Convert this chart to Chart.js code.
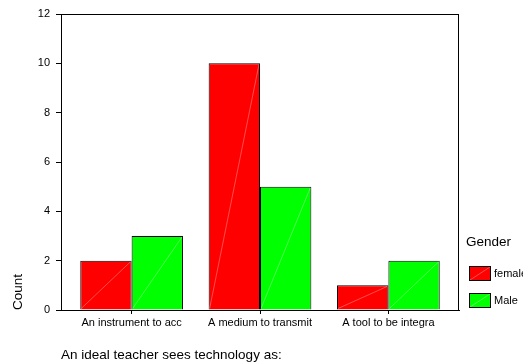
<!DOCTYPE html>
<html>
<head>
<meta charset="utf-8">
<script src="https://cdn.jsdelivr.net/npm/chart.js@4.4.1/dist/chart.umd.min.js"></script>
<style>
  html, body { margin: 0; padding: 0; background: #fff; overflow: hidden; }
  #wrap { width: 523px; height: 362px; }
</style>
</head>
<body>
<div id="wrap"><canvas id="chartGender"></canvas></div>
<script>
// counts per answer, split by gender
const categories = ['An instrument to acc', 'A medium to transmit', 'A tool to be integra']
const female = [2, 10, 1]
const male = [3, 5, 2]
const yTicks = [0, 2, 4, 6, 8, 10, 12]
const genders = ['female', 'Male']
const colors = ['#ff0000', '#00ff00']

const FONT = 'Arial, "Liberation Sans", sans-serif'

// box around the plot area
const framePlugin = {
  id: 'frame',
  afterDraw(chart) {
    const a = chart.chartArea, ctx = chart.ctx
    ctx.save()
    ctx.strokeStyle = '#000'
    ctx.lineWidth = 1
    ctx.strokeRect(Math.round(a.left) + 0.5, Math.round(a.top) + 0.5,
      Math.round(a.right - a.left) - 1, Math.round(a.bottom - a.top))
    ctx.restore()
  }
}

// the faint diagonal spss puts across every filled bar
const diagonalPlugin = {
  id: 'diagonal',
  afterDatasetsDraw(chart) {
    const ctx = chart.ctx
    ctx.save()
    ctx.strokeStyle = 'rgba(255,255,255,0.3)'
    ctx.lineWidth = 1
    chart.data.datasets.forEach((ds, i) => {
      chart.getDatasetMeta(i).data.forEach(bar => {
        const p = bar.getProps(['x', 'y', 'base', 'width'], true)
        ctx.beginPath()
        ctx.moveTo(p.x - p.width / 2 + 1, p.base - 1)
        ctx.lineTo(p.x + p.width / 2 - 1, p.y + 1)
        ctx.stroke()
      })
    })
    ctx.restore()
  }
}

// legend block at the lower right, title "Gender"
const legendPlugin = {
  id: 'genderLegend',
  afterDraw(chart) {
    const a = chart.chartArea, ctx = chart.ctx
    const x = a.right + 10
    ctx.save()
    ctx.fillStyle = '#000'
    ctx.textBaseline = 'middle'
    ctx.font = '13.5px ' + FONT
    ctx.fillText('Gender', a.right + 7, a.bottom - 68)
    ctx.font = '11px ' + FONT
    chart.data.datasets.forEach((ds, i) => {
      const top = a.bottom - 44 + i * 27
      ctx.fillStyle = ds.backgroundColor
      ctx.fillRect(x, top, 22, 15)
      ctx.strokeStyle = 'rgba(255,255,255,0.3)'
      ctx.beginPath()
      ctx.moveTo(x + 1, top + 14)
      ctx.lineTo(x + 21, top + 1)
      ctx.stroke()
      ctx.strokeStyle = '#000'
      ctx.strokeRect(x + 0.5, top + 0.5, 21, 14)
      ctx.fillStyle = '#000'
      ctx.fillText(ds.label, x + 25, top + 8)
    })
    ctx.restore()
  }
}

const ctx = document.getElementById('chartGender').getContext('2d')
const chartGender = new Chart(ctx, {
  type: 'bar',
  data: {
    datasets: [
      {
        label: genders[0],
        data: female.map((v, i) => ({ x: i, y: v })),
        backgroundColor: colors[0],
        borderColor: '#000',
        borderWidth: 1
      },
      {
        label: genders[1],
        data: male.map((v, i) => ({ x: i, y: v })),
        backgroundColor: colors[1],
        borderColor: '#000',
        borderWidth: 1
      }
    ]
  },
  options: {
    responsive: true,
    maintainAspectRatio: false,
    animation: false,
    categoryPercentage: 0.8,
    barPercentage: 1,
    layout: { padding: { top: 14, right: 64, left: 0, bottom: 0 } },
    plugins: {
      legend: { display: false },
      tooltip: { enabled: false }
    },
    scales: {
      x: {
        type: 'linear',
        offset: false,
        min: -0.55,
        max: 2.55,
        afterBuildTicks: s => { s.ticks = categories.map((c, i) => ({ value: i })) },
        afterFit: s => { s.height = 52 },
        grid: { offset: false, drawOnChartArea: false, drawTicks: true, tickLength: 4, color: '#000' },
        border: { display: true, color: '#000', width: 1 },
        ticks: {
          color: '#000',
          padding: 2,
          maxRotation: 0,
          autoSkip: false,
          font: { family: FONT, size: 11 },
          callback: v => categories[v]
        },
        title: {
          display: true,
          text: 'An ideal teacher sees technology as:',
          align: 'start',
          color: '#000',
          padding: 0,
          font: { family: FONT, size: 13.5, lineHeight: 1 }
        }
      },
      y: {
        min: 0,
        max: 12,
        afterBuildTicks: s => { s.ticks = yTicks.map(v => ({ value: v })) },
        afterFit: s => { s.width = 61 },
        grid: { drawOnChartArea: false, drawTicks: true, tickLength: 5, color: '#000' },
        border: { display: true, color: '#000', width: 1 },
        ticks: {
          color: '#000',
          padding: 6,
          font: { family: FONT, size: 11 }
        },
        title: {
          display: true,
          text: 'Count',
          align: 'start',
          color: '#000',
          padding: { top: 12, bottom: 0 },
          font: { family: FONT, size: 13.5, lineHeight: 1 }
        }
      }
    }
  },
  plugins: [framePlugin, diagonalPlugin, legendPlugin]
})
</script>
</body>
</html>
